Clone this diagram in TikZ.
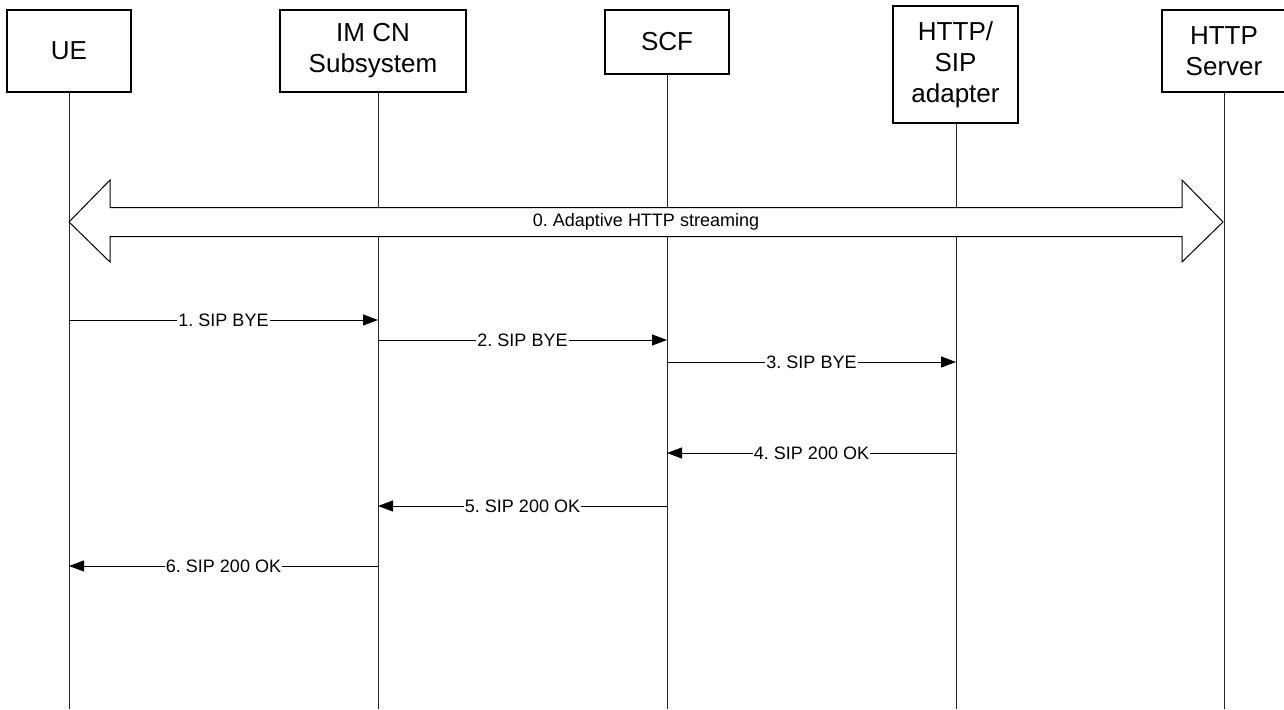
\documentclass[tikz,border=0pt]{standalone}
\usepackage{fontspec}
\setmainfont{Liberation Sans}
\usetikzlibrary{arrows.meta}
\frenchspacing
\begin{document}
\begin{tikzpicture}[x=1pt,y=-1pt,
  entity/.style={draw, line width=1.2pt, align=center, inner sep=0pt,
    font=\fontsize{26}{31}\selectfont},
  life/.style={line width=1pt, black!85},
  msg/.style={line width=1pt, -{Triangle[length=15pt,width=11pt]}},
  lbl/.style={fill=white, inner sep=1pt, font=\fontsize{18}{20}\selectfont},
  big/.style={draw, line width=1pt, fill=white}]
\fill[white] (0,0) rectangle (1284,709);
\useasboundingbox (0,0) rectangle (1284,709);
% entities
\node[entity, minimum width=124pt, minimum height=82pt] (ue) at (69,51) {UE};
\node[entity, minimum width=186pt, minimum height=82pt] (ims) at (373,51) {IM CN\\Subsystem};
\node[entity, minimum width=124pt, minimum height=64pt] (scf) at (667,42) {SCF};
\node[entity, minimum width=125pt, minimum height=117pt] (ada) at (955.5,64.5) {HTTP/\\SIP\\adapter};
\node[entity, minimum width=124pt, minimum height=82pt] (hs) at (1224,51) {HTTP\\Server};
% lifeline ends
\coordinate (ueE) at (69,709);
\coordinate (imsE) at (378,709);
\coordinate (scfE) at (667,709);
\coordinate (adaE) at (956,709);
\coordinate (hsE) at (1224,709);
\draw[life] (ue.south) -- (ueE);
\draw[life] (ims.south -| imsE) -- (imsE);
\draw[life] (scf.south) -- (scfE);
\draw[life] (ada.south -| adaE) -- (adaE);
\draw[life] (hs.south) -- (hsE);
% big double arrow
\draw[big] (69,222) -- (110,180) -- (110,207.5) -- (1182,207.5) -- (1182,180) -- (1223,222)
  -- (1182,262) -- (1182,236.5) -- (110,236.5) -- (110,262) -- cycle;
\node[font=\fontsize{18}{20}\selectfont] (stream) at (646,222) {0. Adaptive HTTP streaming};
% messages
\foreach \n/\y/\a/\b in {1/320/ueE/imsE, 2/340/imsE/scfE, 3/362/scfE/adaE,
                         4/453/adaE/scfE, 5/506/scfE/imsE, 6/566/imsE/ueE}{
  \coordinate (s\n) at (\a |- 0,\y);
  \coordinate (t\n) at (\b |- 0,\y);
}
\draw[msg] (s1) -- node[lbl]{1. SIP BYE} (t1);
\draw[msg] (s2) -- node[lbl]{2. SIP BYE} (t2);
\draw[msg] (s3) -- node[lbl]{3. SIP BYE} (t3);
\draw[msg] (s4) -- node[lbl]{4. SIP 200 OK} (t4);
\draw[msg] (s5) -- node[lbl]{5. SIP 200 OK} (t5);
\draw[msg] (s6) -- node[lbl]{6. SIP 200 OK} (t6);
\end{tikzpicture}
\end{document}
